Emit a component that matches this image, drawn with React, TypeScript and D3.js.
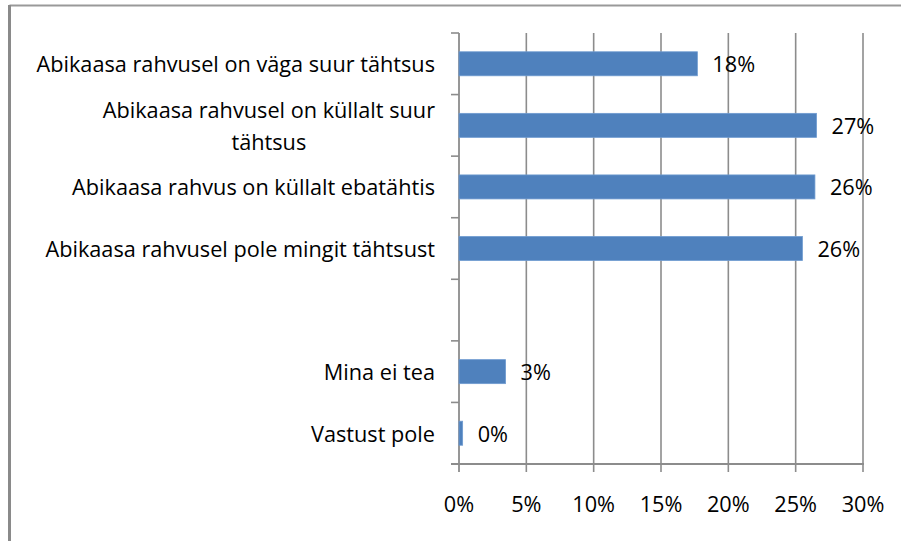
import React from "react";
import * as d3 from "d3";

const categories: string[] = [
  "Abikaasa rahvusel on väga suur tähtsus",
  "Abikaasa rahvusel on küllalt suur\ntähtsus",
  "Abikaasa rahvus on küllalt ebatähtis",
  "Abikaasa rahvusel pole mingit tähtsust",
  " ",
  "Mina ei tea",
  "Vastust pole",
];
const values: (number | null)[] = [17.7, 26.55, 26.43, 25.5, null, 3.46, 0.27];
const xTicks: number[] = [0, 5, 10, 15, 20, 25, 30];

const W = 901;
const H = 541;
const FONT = "'Open Sans', sans-serif";
const FS = 21.7;
const GRID = "#8c8c8c";
const BAR = "#4F81BD";

function measure(s: string): number {
  const c = document.createElement("canvas").getContext("2d");
  if (!c) return s.length * FS * 0.5;
  c.font = `${FS}px ${FONT}`;
  return c.measureText(s).width;
}

export default function App() {
  const x = d3.scaleLinear().domain([0, 30]).range([459, 863]);
  const y = d3.scaleBand<string>().domain(categories).range([33, 464]).padding(0);
  const bh = y.bandwidth() * 0.39;
  const yTickPos = categories.map((c) => y(c) as number).concat([464]);
  const labelRight = 435;

  return (
    <svg
      width={W}
      height={H}
      style={{ position: "absolute", left: 0, top: 0, background: "#fff" }}
      fontFamily={FONT}
    >
      <rect x={0} y={0} width={W} height={H} fill="#fff" />
      {/* frame */}
      <line x1={9.5} y1={5.5} x2={W} y2={5.5} stroke="#999" strokeWidth={2} />
      <line x1={9.5} y1={5} x2={9.5} y2={H} stroke="#8a8a8a" strokeWidth={3} />

      {/* gridlines */}
      {xTicks.slice(1).map((t) => (
        <line key={t} x1={x(t)} x2={x(t)} y1={33} y2={472} stroke={GRID} strokeWidth={1.6} />
      ))}
      {/* y axis */}
      <line x1={459} x2={459} y1={33} y2={472} stroke={GRID} strokeWidth={1.8} />
      {yTickPos.map((p, i) => (
        <line key={i} x1={451} x2={459} y1={p} y2={p} stroke={GRID} strokeWidth={1.6} />
      ))}
      {/* x axis */}
      <line x1={451} x2={864} y1={464} y2={464} stroke={GRID} strokeWidth={1.8} />
      {xTicks.map((t) => (
        <text key={t} x={x(t)} y={503} textAnchor="middle" dominantBaseline="central" fontSize={FS} fill="#000">
          {t + "%"}
        </text>
      ))}

      {/* bars */}
      {categories.map((c, i) => {
        const v = values[i];
        if (v === null) return null;
        const cy = (y(c) as number) + y.bandwidth() / 2;
        return (
          <g key={c}>
            <rect x={x(0)} y={cy - bh / 2} width={x(v) - x(0)} height={bh} fill={BAR} stroke="#6f9bd0" strokeWidth={0.8} />
            <text x={x(v) + 15} y={cy} dominantBaseline="central" fontSize={FS} fill="#000">
              {Math.round(v) + "%"}
            </text>
          </g>
        );
      })}

      {/* category labels */}
      {categories.map((c) => {
        const lines = c.split("\n");
        const cy = (y(c) as number) + y.bandwidth() / 2;
        const lh = 32;
        const top = cy - ((lines.length - 1) * lh) / 2;
        if (lines.length === 1) {
          return (
            <text key={c} x={labelRight} y={cy} textAnchor="end" dominantBaseline="central" fontSize={FS} fill="#000">
              {c}
            </text>
          );
        }
        const maxW = Math.max(...lines.map(measure));
        const centerX = labelRight - maxW / 2;
        return (
          <g key={c}>
            {lines.map((l, j) => (
              <text key={j} x={centerX} y={top + j * lh} textAnchor="middle" dominantBaseline="central" fontSize={FS} fill="#000">
                {l}
              </text>
            ))}
          </g>
        );
      })}
    </svg>
  );
}
